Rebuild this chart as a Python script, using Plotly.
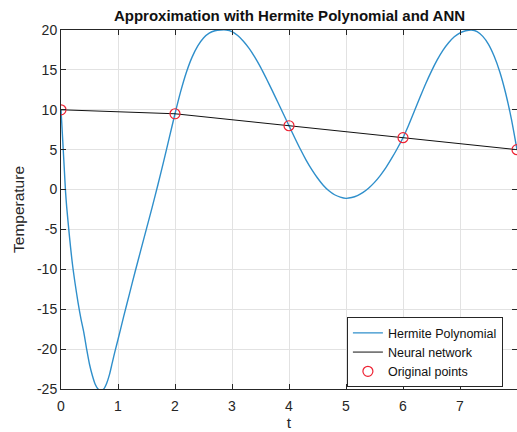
import plotly.graph_objects as go

# Hermite polynomial curve
herm_t = [0, 0.02, 0.04, 0.06, 0.08, 0.1, 0.15, 0.2, 0.25, 0.3, 0.35, 0.4, 0.45, 0.5, 0.55, 0.6, 0.65, 0.7,
          0.75, 0.8, 0.85, 0.9, 0.95,
          1.0, 1.1, 1.2, 1.3, 1.4, 1.5, 1.6, 1.7, 1.8, 1.9,
          2.0, 2.1, 2.2, 2.3, 2.4, 2.5, 2.6, 2.7, 2.8, 2.9,
          3.0, 3.1, 3.2, 3.3, 3.4, 3.5, 3.6, 3.7, 3.8, 3.9,
          4.0, 4.1, 4.2, 4.3, 4.4, 4.5, 4.6, 4.7, 4.8, 4.9,
          5.0, 5.1, 5.2, 5.3, 5.4, 5.5, 5.6, 5.7, 5.8, 5.9,
          6.0, 6.1, 6.2, 6.3, 6.4, 6.5, 6.6, 6.7, 6.8, 6.9,
          7.0, 7.1, 7.2, 7.3, 7.4, 7.5, 7.6, 7.7, 7.8, 7.9, 8.0]
herm_v = [10, 7.5, 4.9, 2.3, -0.3, -2.2, -6.0, -9.3, -11.9, -14.2, -16.2, -17.9, -20.0, -21.9, -23.3, -24.4, -25.0, -25.2,
          -25.0, -24.3, -23.2, -21.7, -20.2,
          -18.8, -15.9, -13.1, -10.3, -7.6, -4.9, -2.2, 0.6, 3.5, 6.5,
          9.5, 12.3, 14.7, 16.6, 18.0, 19.0, 19.6, 19.9, 20.0, 20.0,
          19.8, 19.3, 18.6, 17.7, 16.6, 15.35, 13.95, 12.5, 11.0, 9.5,
          8.0, 6.5, 5.05, 3.7, 2.5, 1.45, 0.55, -0.15, -0.65, -0.95,
          -1.1, -1.0, -0.75, -0.35, 0.2, 0.9, 1.75, 2.75, 3.9, 5.15,
          6.5, 8.1, 9.85, 11.6, 13.3, 14.85, 16.25, 17.45, 18.4, 19.15,
          19.65, 19.9, 20.0, 19.8, 19.2, 18.2, 16.7, 14.7, 12.1, 8.9, 5.0]

# Neural network output
nn_t = [0, 2, 4, 6, 8]
nn_v = [10, 9.5, 8, 6.5, 5]

# Original points
pts_t = [0, 2, 4, 6, 8]
pts_v = [10, 9.5, 8, 6.5, 5]

x_ticks = [0, 1, 2, 3, 4, 5, 6, 7, 8]
y_ticks = [-25, -20, -15, -10, -5, 0, 5, 10, 15, 20]
y_tick_text = ["-25", "-20", "-15", "-10", "-5", "0", "5", "10", "15", "20"]

FONT = "Liberation Sans, Arial, sans-serif"

fig = go.Figure()
fig.add_trace(go.Scatter(x=herm_t, y=herm_v, mode="lines", name="Hermite Polynomial",
                         line=dict(color="#2f8fcb", width=1.4, shape="spline", smoothing=0.7)))
fig.add_trace(go.Scatter(x=nn_t, y=nn_v, mode="lines", name="Neural network",
                         line=dict(color="#111111", width=1)))
fig.add_trace(go.Scatter(x=pts_t, y=pts_v, mode="markers", name="Original points",
                         marker=dict(symbol="circle-open", color="#ee2233", size=10, line=dict(width=1.2))))

axis_common = dict(showline=True, linecolor="#262626", linewidth=1, mirror="allticks",
                   ticks="inside", ticklen=5, tickcolor="#262626",
                   showgrid=True, gridcolor="#e2e2e2", gridwidth=1, zeroline=False,
                   tickfont=dict(family=FONT, size=14, color="#262626"))

fig.update_layout(
    width=517, height=432,
    margin=dict(l=61, r=0, t=29.5, b=43),
    paper_bgcolor="white", plot_bgcolor="white",
    title=dict(text="<b>Approximation with Hermite Polynomial and ANN</b>",
               x=0.56, xanchor="center", y=0.963, yanchor="middle",
               font=dict(family=FONT, size=15, color="#111111")),
    xaxis=dict(range=[0, 8], tickvals=x_ticks, ticklabelstandoff=4,
               title=dict(text="t", standoff=2,
                          font=dict(family=FONT, size=15.5, color="#262626")),
               **axis_common),
    yaxis=dict(range=[-25, 20], tickvals=y_ticks, ticktext=y_tick_text,
               title=dict(text="Temperature", standoff=8,
                          font=dict(family=FONT, size=15.5, color="#262626")),
               **axis_common),
    legend=dict(x=0.627, y=0.2, xanchor="left", yanchor="top",
                bgcolor="white", bordercolor="#262626", borderwidth=1,
                font=dict(family=FONT, size=12.5, color="#111111"),
                tracegroupgap=0, itemwidth=30),
    showlegend=True,
)

fig.write_html("out.html")
